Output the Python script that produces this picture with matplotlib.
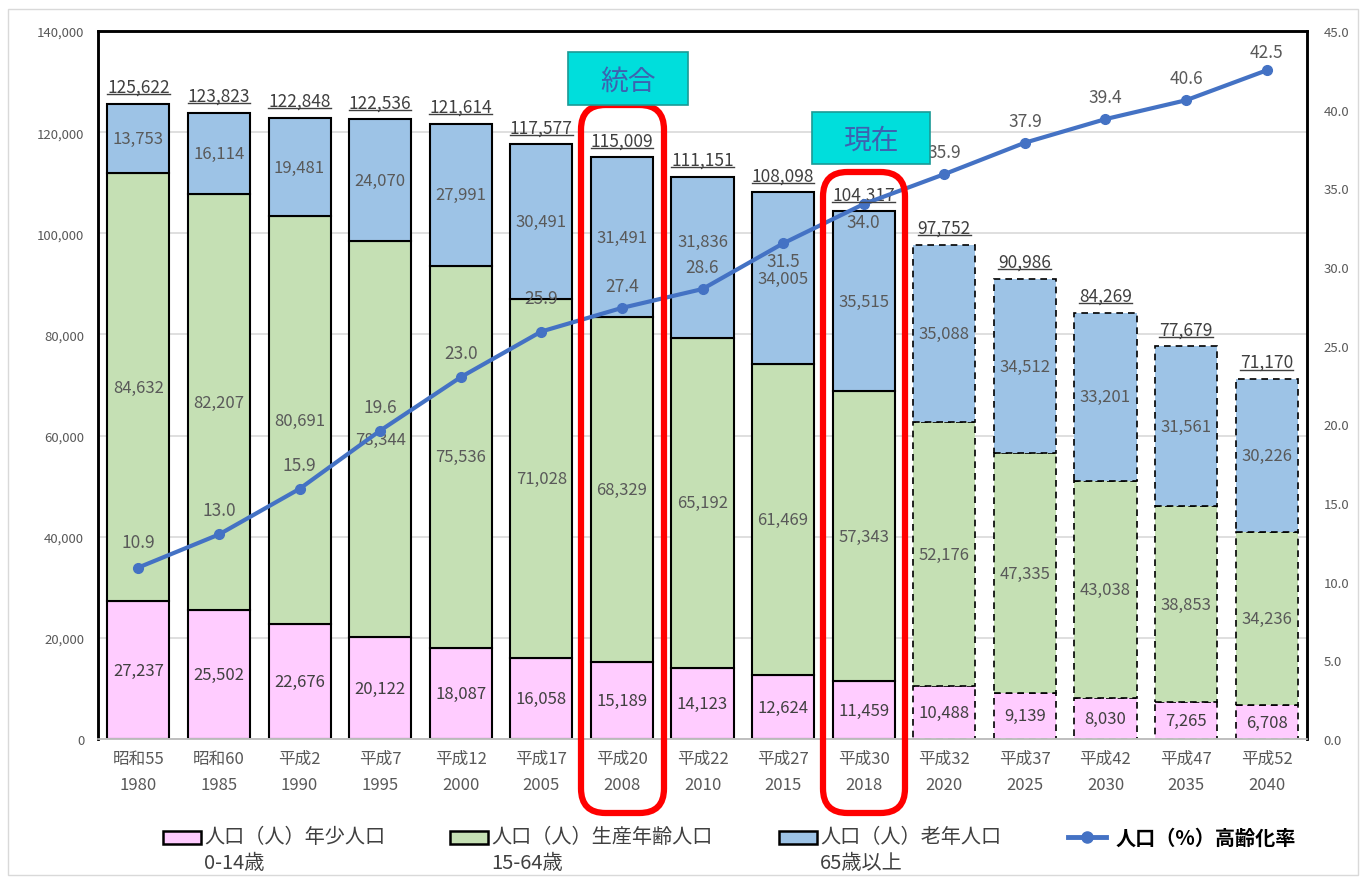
import numpy as np
import matplotlib.pyplot as plt
from matplotlib.patches import Rectangle, FancyBboxPatch
from matplotlib.lines import Line2D

plt.rcParams['font.family'] = ['Noto Sans CJK JP', 'DejaVu Sans']

# data
era = ['昭和55', '昭和60', '平成2', '平成7', '平成12', '平成17', '平成20', '平成22',
       '平成27', '平成30', '平成32', '平成37', '平成42', '平成47', '平成52']
years = ['1980', '1985', '1990', '1995', '2000', '2005', '2008', '2010',
         '2015', '2018', '2020', '2025', '2030', '2035', '2040']
young = [27237, 25502, 22676, 20122, 18087, 16058, 15189, 14123, 12624, 11459,
         10488, 9139, 8030, 7265, 6708]
working = [84632, 82207, 80691, 78344, 75536, 71028, 68329, 65192, 61469, 57343,
           52176, 47335, 43038, 38853, 34236]
elderly = [13753, 16114, 19481, 24070, 27991, 30491, 31491, 31836, 34005, 35515,
           35088, 34512, 33201, 31561, 30226]
totals = [125622, 123823, 122848, 122536, 121614, 117577, 115009, 111151, 108098,
          104317, 97752, 90986, 84269, 77679, 71170]
ratio = [10.9, 13.0, 15.9, 19.6, 23.0, 25.9, 27.4, 28.6, 31.5, 34.0, 35.9, 37.9,
         39.4, 40.6, 42.5]
n_actual = 10  # after this index bars are projections

c_young = '#FFCCFF'
c_work = '#C5E0B4'
c_old = '#9DC3E6'
c_line = '#4472C4'
c_txt = '#595959'

fig = plt.figure(figsize=(13.6, 8.79), dpi=100)
ax = fig.add_axes([0.0721, 0.1581, 0.8889, 0.8055])
ax2 = ax.twinx()

x = np.arange(len(years))
w = 0.77
# label nudges (pixels) for the elderly segment labels
old_nudge = [0] * len(years)
old_nudge[7] = 16
for i in x:
    ls = '-' if i < n_actual else (0, (4, 3))
    lw = 1.5 if i < n_actual else 1.2
    b0 = 0
    for k, (v, c) in enumerate([(young[i], c_young), (working[i], c_work),
                                (elderly[i], c_old)]):
        ax.bar(i, v, w, bottom=b0, color=c, edgecolor='black', linewidth=lw,
               linestyle=ls, zorder=2)
        dy = old_nudge[i] if k == 2 else 0
        ax.annotate(f'{v:,}', (i, b0 + v / 2), xytext=(0, dy),
                    textcoords='offset pixels', ha='center', va='center',
                    fontsize=12, color=c_txt if k else '#404040', zorder=3)
        b0 += v

tot_txt = []
for i in x:
    t = ax.annotate(f'{totals[i]:,}', (i, totals[i]), xytext=(0, 8),
                    textcoords='offset pixels', ha='center', va='bottom',
                    fontsize=12.5, color='#404040', zorder=5)
    tot_txt.append(t)

ax.set_xlim(-0.5, len(years) - 0.5)
ax.set_ylim(0, 140000)
ax.set_yticks(np.arange(0, 140001, 20000))
ax.set_yticklabels([f'{v:,}' for v in range(0, 140001, 20000)], fontsize=9.5,
                   color=c_txt)
ax.set_xticks(x)
ax.set_xticklabels([f'{a}\n{b}' for a, b in zip(era, years)], fontsize=12,
                   color=c_txt, linespacing=1.7)
ax.tick_params(length=0, pad=10)
ax.tick_params(axis='x', pad=8)
ax.grid(axis='y', color='#D9D9D9', linewidth=1.2, zorder=0)
ax.set_axisbelow(True)

ax2.plot(x, ratio, color=c_line, linewidth=3, marker='o', markersize=7, zorder=6)
offs = [26, 24, 24, 24, 24, 34, 22, 22, -18, -18, 22, 22, 22, 22, 18]
for i in x:
    ax2.annotate(f'{ratio[i]:.1f}', (i, ratio[i]), xytext=(0, offs[i]),
                 textcoords='offset pixels', ha='center', va='center',
                 fontsize=12.5, color=c_txt, zorder=7)
ax2.set_ylim(0, 45)
ax2.set_yticks(np.arange(0, 45.1, 5))
ax2.set_yticklabels([f'{v:.1f}' for v in np.arange(0, 45.1, 5)], fontsize=9.5,
                    color=c_txt)
ax2.tick_params(length=0, pad=12)

for a in (ax, ax2):
    for s in ('top', 'left', 'right'):
        a.spines[s].set_color('black')
        a.spines[s].set_linewidth(1.8)
    a.spines['bottom'].set_color('#BFBFBF')
    a.spines['bottom'].set_linewidth(1.2)

# highlight boxes (figure pixel coords)
H = 879.0
def fx(px):
    return px / 1360.0
def fy(py):
    return 1 - py / H

for x0, x1, y0, y1 in [(581, 664, 106, 814), (823, 905, 173, 814)]:
    fig.add_artist(FancyBboxPatch((fx(x0), fy(y1)), fx(x1 - x0), (y1 - y0) / H,
                                  boxstyle='round,pad=0,rounding_size=0.018',
                                  transform=fig.transFigure, fill=False,
                                  edgecolor='#FF0000', linewidth=4.5, zorder=10,
                                  mutation_aspect=1360 / H))

for x0, x1, y0, y1, s in [(568, 688, 53, 106, '統合'), (812, 930, 113, 165, '現在')]:
    fig.add_artist(Rectangle((fx(x0), fy(y1)), fx(x1 - x0), (y1 - y0) / H,
                             transform=fig.transFigure, facecolor='#00DEDC',
                             edgecolor='#1A9A96', linewidth=1.2, zorder=11))
    fig.text(fx((x0 + x1) / 2), fy((y0 + y1) / 2 + 2), s, ha='center', va='center',
             fontsize=20, color='#3D62B0', zorder=12)

# legend
leg = [(163, 201, '人口（人）年少人口', '0-14歳', c_young),
       (450, 488, '人口（人）生産年齢人口', '15-64歳', c_work),
       (779, 817, '人口（人）老年人口', '65歳以上', c_old)]
for x0, x1, l1, l2, c in leg:
    fig.add_artist(Rectangle((fx(x0), fy(845)), fx(x1 - x0), 13 / H,
                             transform=fig.transFigure, facecolor=c,
                             edgecolor='black', linewidth=1.8))
    fig.text(fx(x1 + 3), fy(838), l1, ha='left', va='center', fontsize=14.5,
             color='#404040')
    fig.text(fx(x1 + 3), fy(864), l2, ha='left', va='center', fontsize=14.5,
             color='#404040')
fig.add_artist(Line2D([fx(1068), fx(1106)], [fy(838), fy(838)], color=c_line,
                      linewidth=3.5, transform=fig.transFigure))
fig.add_artist(Line2D([fx(1087)], [fy(838)], color=c_line, marker='o',
                      markersize=8, transform=fig.transFigure))
fig.text(fx(1116), fy(838), '人口（%）高齢化率', ha='left', va='center', fontsize=14.5,
         color='black', fontweight='bold')

# outer border
fig.add_artist(Rectangle((fx(8), fy(876)), fx(1350), 866 / H, transform=fig.transFigure,
                         fill=False, edgecolor='#D9D9D9', linewidth=1))

# underline the totals
fig.canvas.draw()
r = fig.canvas.get_renderer()
for t in tot_txt:
    bb = t.get_window_extent(r).transformed(fig.transFigure.inverted())
    yl = bb.y0 + 1.5 / H
    fig.add_artist(Line2D([bb.x0, bb.x1], [yl, yl], color='#404040', linewidth=1,
                          transform=fig.transFigure, zorder=5))

fig.savefig('out.png', dpi=100)
